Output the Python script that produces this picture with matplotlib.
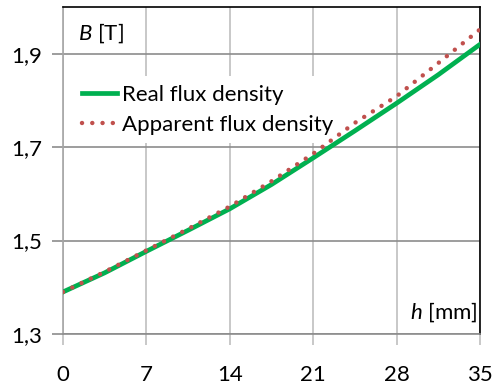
import matplotlib.pyplot as plt

# data
h_mm = [0, 3.5, 7, 10.5, 14, 17.5, 21, 24.5, 28, 31.5, 35]
b_real = [1.390, 1.431, 1.477, 1.522, 1.568, 1.620, 1.677, 1.735, 1.794, 1.855, 1.920]
b_apparent = [1.390, 1.433, 1.479, 1.525, 1.573, 1.627, 1.686, 1.752, 1.809, 1.880, 1.952]
x_ticks = [0, 7, 14, 21, 28, 35]
y_ticks = [1.3, 1.5, 1.7, 1.9]
y_ticklabels = ['1,3', '1,5', '1,7', '1,9']

plt.rcParams['font.family'] = ['Lato', 'DejaVu Sans']
plt.rcParams['mathtext.fontset'] = 'custom'
plt.rcParams['mathtext.it'] = 'Lato:italic'
plt.rcParams['mathtext.rm'] = 'Lato'

fs = 16

fig = plt.figure(figsize=(4.93, 3.88), dpi=100)
ax = fig.add_axes([63 / 493, 1 - 334 / 388, 417 / 493, 327 / 388])

ax.plot(h_mm, b_real, color='#00b050', lw=3.4, label='Real flux density', zorder=3)
ax.plot(h_mm, b_apparent, color='#c0504d', lw=3.2, ls=(0, (0.01, 2.3)),
        dash_capstyle='round', label='Apparent flux density', zorder=4)

ax.set_xlim(0, 35)
ax.set_ylim(1.3, 2.0)
ax.set_xticks(x_ticks)
ax.set_yticks(y_ticks)
ax.set_yticklabels(y_ticklabels)

# grid: vertical lighter, horizontal darker
ax.xaxis.grid(True, color='#bfbfbf', lw=1.2)
ax.yaxis.grid(True, color='#8c8c8c', lw=1.2)
ax.set_axisbelow(True)

ax.spines['top'].set_color('black')
ax.spines['right'].set_color('black')
ax.spines['left'].set_color('#a6a6a6')
ax.spines['bottom'].set_color('#8c8c8c')
for s in ax.spines.values():
    s.set_linewidth(1.2)

ax.tick_params(axis='x', length=8, width=1.2, color='#bfbfbf', labelsize=fs, pad=14)
ax.tick_params(axis='y', length=8, width=1.2, color='#8c8c8c', labelsize=fs, pad=7)

# axis labels placed inside the plot area
ax.text(0.036, 0.92, r'$\it{B}$ [T]', transform=ax.transAxes, fontsize=fs,
        ha='left', va='center')
ax.text(0.995, 0.067, r'$\it{h}$ [mm]', transform=ax.transAxes, fontsize=fs,
        ha='right', va='center')

leg = ax.legend(loc='upper left', bbox_to_anchor=(10 / 417, 0.79), frameon=True,
                fontsize=fs, handlelength=1.6, handletextpad=0.2,
                borderpad=0.4, labelspacing=0.45, borderaxespad=0.0)
leg.get_frame().set_facecolor('white')
leg.get_frame().set_edgecolor('none')
leg.get_frame().set_alpha(1)
leg.set_zorder(2.5)  # covers the grid but not the curves

fig.savefig('out.png', dpi=100)
